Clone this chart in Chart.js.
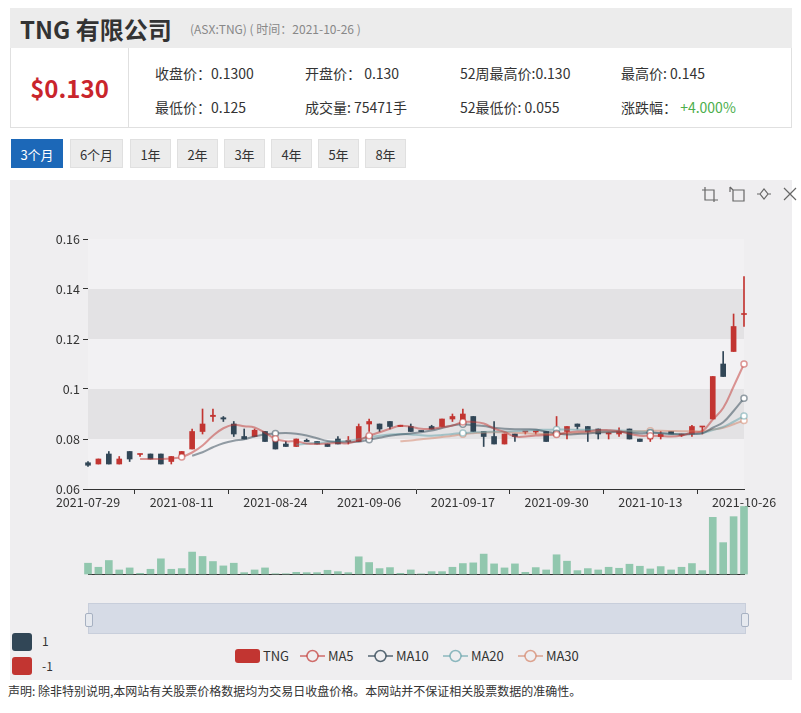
<!DOCTYPE html>
<html>
<head>
<meta charset="utf-8">
<title>TNG 有限公司</title>
<script src="https://cdn.jsdelivr.net/npm/chart.js@4.4.1/dist/chart.umd.min.js"></script>
<style>
  body { margin: 0; width: 801px; height: 713px; background: #fff; position: relative; overflow: hidden;
         font-family: "Noto Sans CJK SC", "Noto Sans", sans-serif; color: #333; }
  .abs { position: absolute; }
  #head { left: 10px; top: 8px; width: 782px; height: 40px; background: #ececec; }
  #head .name { position: absolute; left: 10px; top: 3px; font-size: 24px; font-weight: bold; color: #333; }
  #head .sub { position: absolute; left: 180px; top: 12px; font-size: 12px; color: #888; }
  #info { left: 10px; top: 48px; width: 780px; height: 79px; border: 1px solid #e0e0e0; border-top: none; background: #fff; }
  #price { position: absolute; left: 0; top: 0; width: 117px; height: 79px; border-right: 1px solid #e0e0e0;
           text-align: center; line-height: 79px; font-size: 24px; font-weight: bold; color: #c9252c; }
  .cell { position: absolute; font-size: 14px; color: #333; white-space: nowrap; }
  .green { color: #4cae4c; }
  .btn { position: absolute; top: 139px; height: 29px; line-height: 29px; text-align: center; font-size: 13px;
         background: #ececec; color: #333; border: 1px solid #e0e0e0; box-sizing: border-box; }
  .btn.on { background: #1c68b8; color: #fff; border-color: #1c68b8; }
  #panel { left: 10px; top: 180px; width: 782px; height: 500px; background: #efeef0; }
  #slider { left: 88px; top: 603px; width: 658px; height: 31px; background: #d6dbe6; border: 1px solid #c8cedb; box-sizing: border-box; }
  .handle { position: absolute; top: 9px; width: 6px; height: 12px; background: #e6e9ef; border: 1px solid #a7b1c2; border-radius: 2px; }
  .legend { position: absolute; top: 647px; font-size: 13px; color: #333; height: 18px; line-height: 18px; white-space: nowrap; }
  .vm { position: absolute; left: 12px; width: 20px; height: 18px; border-radius: 3px; }
  .vmt { position: absolute; left: 42px; font-size: 12px; color: #333; }
  #foot { left: 8px; top: 682px; font-size: 12px; color: #333; }
  canvas { position: absolute; }
</style>
</head>
<body>

<div id="head" class="abs">
  <span class="name">TNG 有限公司</span>
  <span class="sub">(ASX:TNG) ( 时间：2021-10-26 )</span>
</div>

<div id="info" class="abs">
  <div id="price">$0.130</div>
  <span class="cell" style="left:144px;top:15px">收盘价：0.1300</span>
  <span class="cell" style="left:294px;top:15px">开盘价： 0.130</span>
  <span class="cell" style="left:449px;top:15px">52周最高价:0.130</span>
  <span class="cell" style="left:610px;top:15px">最高价: 0.145</span>
  <span class="cell" style="left:144px;top:49px">最低价：0.125</span>
  <span class="cell" style="left:294px;top:49px">成交量: 75471手</span>
  <span class="cell" style="left:449px;top:49px">52最低价: 0.055</span>
  <span class="cell" style="left:610px;top:49px">涨跌幅： <span class="green">+4.000%</span></span>
</div>

<div class="btn on" style="left:11px;width:52px">3个月</div>
<div class="btn" style="left:70px;width:53px">6个月</div>
<div class="btn" style="left:130px;width:41px">1年</div>
<div class="btn" style="left:177px;width:41px">2年</div>
<div class="btn" style="left:224px;width:41px">3年</div>
<div class="btn" style="left:271px;width:41px">4年</div>
<div class="btn" style="left:318px;width:41px">5年</div>
<div class="btn" style="left:365px;width:41px">8年</div>

<div id="panel" class="abs"></div>

<svg class="abs" style="left:700px;top:184px" width="101" height="20" fill="none" stroke="#666" stroke-width="1.2">
  <path d="M5 3 V16 H18 M2 6 H14 V18"/>
  <path d="M33 6 H44 V17 H33 Z M33 6 L30 3 M30 3 V8"/>
  <path d="M60 10 L64 5 L68 10 L64 15 Z M57 10 H60 M68 10 H71"/>
  <path d="M84 4 L96 16 M96 4 L84 16"/>
</svg>

<canvas id="kline" width="780" height="340" style="left:10px;top:180px"></canvas>
<canvas id="vol" width="780" height="80" style="left:10px;top:500px"></canvas>

<div id="slider" class="abs">
  <div class="handle" style="left:-4px"></div>
  <div class="handle" style="right:-4px"></div>
</div>

<div class="vm" style="top:633px;background:#314656"></div>
<span class="vmt" style="top:632px">1</span>
<div class="vm" style="top:657px;background:#c23531"></div>
<span class="vmt" style="top:657px">-1</span>

<div id="legend"></div>

<div id="foot" class="abs">声明: 除非特别说明,本网站有关股票价格数据均为交易日收盘价格。本网站并不保证相关股票数据的准确性。</div>

<script>
// trading days shown (3个月)
const dates = [
  '2021-07-29','2021-07-30','2021-08-02','2021-08-03','2021-08-04','2021-08-05','2021-08-06','2021-08-09',
  '2021-08-10','2021-08-11','2021-08-12','2021-08-13','2021-08-16','2021-08-17','2021-08-18','2021-08-19',
  '2021-08-20','2021-08-23','2021-08-24','2021-08-25','2021-08-26','2021-08-27','2021-08-30','2021-08-31',
  '2021-09-01','2021-09-02','2021-09-03','2021-09-06','2021-09-07','2021-09-08','2021-09-09','2021-09-10',
  '2021-09-13','2021-09-14','2021-09-15','2021-09-16','2021-09-17','2021-09-20','2021-09-21','2021-09-22',
  '2021-09-23','2021-09-24','2021-09-27','2021-09-28','2021-09-29','2021-09-30','2021-10-01','2021-10-04',
  '2021-10-05','2021-10-06','2021-10-07','2021-10-08','2021-10-11','2021-10-12','2021-10-13','2021-10-14',
  '2021-10-15','2021-10-18','2021-10-19','2021-10-20','2021-10-21','2021-10-22','2021-10-25','2021-10-26'
];

const openPrices = [
  0.0705, 0.070, 0.074, 0.070, 0.075, 0.0738, 0.074, 0.074, 0.071, 0.073, 0.076, 0.083, 0.089, 0.0885, 0.086, 0.081,
  0.081, 0.083, 0.080, 0.078, 0.077, 0.0795, 0.079, 0.078, 0.080, 0.079, 0.079, 0.086, 0.086, 0.087, 0.085, 0.085,
  0.0832, 0.085, 0.085, 0.088, 0.087, 0.089, 0.083, 0.081, 0.078, 0.082, 0.0828, 0.0828, 0.083, 0.082, 0.083, 0.086,
  0.085, 0.084, 0.082, 0.082, 0.084, 0.080, 0.080, 0.081, 0.083, 0.0815, 0.082, 0.0848, 0.088, 0.110, 0.115, 0.1298
];
const closePrices = [
  0.0695, 0.072, 0.070, 0.072, 0.072, 0.074, 0.072, 0.070, 0.073, 0.075, 0.083, 0.086, 0.0895, 0.088, 0.082, 0.080,
  0.0835, 0.079, 0.076, 0.077, 0.080, 0.079, 0.078, 0.077, 0.078, 0.0795, 0.085, 0.087, 0.084, 0.085, 0.0855, 0.083,
  0.083, 0.084, 0.088, 0.089, 0.090, 0.083, 0.081, 0.078, 0.082, 0.081, 0.083, 0.083, 0.079, 0.083, 0.085, 0.085,
  0.083, 0.082, 0.0825, 0.083, 0.080, 0.079, 0.082, 0.082, 0.082, 0.082, 0.085, 0.085, 0.105, 0.105, 0.125, 0.130
];
const lowPrices = [
  0.069, 0.070, 0.070, 0.070, 0.071, 0.073, 0.072, 0.070, 0.070, 0.073, 0.076, 0.082, 0.087, 0.087, 0.081, 0.080,
  0.081, 0.079, 0.076, 0.077, 0.077, 0.079, 0.078, 0.077, 0.078, 0.078, 0.079, 0.083, 0.083, 0.084, 0.085, 0.083,
  0.083, 0.084, 0.085, 0.087, 0.087, 0.083, 0.077, 0.078, 0.078, 0.079, 0.082, 0.082, 0.079, 0.082, 0.080, 0.084,
  0.079, 0.080, 0.080, 0.081, 0.080, 0.079, 0.079, 0.080, 0.082, 0.081, 0.081, 0.082, 0.088, 0.105, 0.115, 0.125
];
const highPrices = [
  0.071, 0.072, 0.075, 0.073, 0.075, 0.074, 0.074, 0.074, 0.073, 0.075, 0.084, 0.092, 0.092, 0.089, 0.087, 0.084,
  0.084, 0.083, 0.081, 0.079, 0.080, 0.080, 0.079, 0.078, 0.081, 0.081, 0.086, 0.088, 0.086, 0.087, 0.0855, 0.086,
  0.0832, 0.0855, 0.088, 0.090, 0.092, 0.089, 0.083, 0.087, 0.082, 0.082, 0.083, 0.083, 0.083, 0.089, 0.085, 0.086,
  0.085, 0.084, 0.0825, 0.0845, 0.084, 0.080, 0.082, 0.083, 0.083, 0.082, 0.0855, 0.085, 0.105, 0.115, 0.130, 0.145
];
const volumes = [
  12060, 7540, 15080, 4520, 6790, 750, 5280, 16970, 5280, 6030, 24500, 19600, 13950, 9050, 12060, 1510,
  4520, 6790, 300, 300, 1890, 1510, 1510, 4150, 2640, 1510, 19230, 12820, 6030, 7160, 750, 4520,
  200, 2640, 2640, 7540, 11690, 12440, 22240, 11310, 6790, 11310, 1890, 7160, 4520, 21490, 14330, 3770,
  6030, 4520, 7540, 6410, 10930, 8670, 5660, 8290, 4520, 7540, 11690, 3770, 63340, 35060, 64090, 75471
];

// moving averages as drawn on the chart
const ma5 = [
  null, null, null, null, null, 0.0720, 0.0720, 0.0720, 0.0722, 0.0728, 0.0746, 0.0774, 0.0813, 0.0843, 0.0857, 0.0851,
  0.0846, 0.0825, 0.0801, 0.0791, 0.0791, 0.0782, 0.0780, 0.0782, 0.0784, 0.0783, 0.0795, 0.0813, 0.0827, 0.0841, 0.0853, 0.0849,
  0.0841, 0.0841, 0.0847, 0.0854, 0.0868, 0.0868, 0.0862, 0.0842, 0.0828, 0.0810, 0.0810, 0.0814, 0.0816, 0.0818, 0.0826, 0.0830,
  0.0830, 0.0836, 0.0835, 0.0831, 0.0821, 0.0813, 0.0813, 0.0812, 0.0810, 0.0814, 0.0826, 0.0832, 0.0878, 0.0924, 0.1010, 0.1100
];
const ma10 = [
  null, null, null, null, null, null, null, null, null, null, 0.0733, 0.0747, 0.0767, 0.0783, 0.0793, 0.0799,
  0.0810, 0.0819, 0.0822, 0.0824, 0.0821, 0.0814, 0.0803, 0.0792, 0.0788, 0.0787, 0.0789, 0.0797, 0.0805, 0.0813, 0.0818, 0.0822,
  0.0827, 0.0834, 0.0844, 0.0854, 0.0859, 0.0855, 0.0852, 0.0845, 0.0841, 0.0839, 0.0839, 0.0838, 0.0829, 0.0823, 0.0818, 0.0820,
  0.0822, 0.0826, 0.0827, 0.0829, 0.0826, 0.0822, 0.0825, 0.0824, 0.0821, 0.0818, 0.0820, 0.0823, 0.0845, 0.0867, 0.0912, 0.0963
];
const ma20 = [
  null, null, null, null, null, null, null, null, null, null, null, null, null, null, null, null,
  null, null, null, null, 0.0777, 0.0781, 0.0785, 0.0787, 0.0790, 0.0793, 0.0799, 0.0808, 0.0813, 0.0818, 0.0820, 0.0818,
  0.0815, 0.0813, 0.0816, 0.0820, 0.0824, 0.0826, 0.0828, 0.0829, 0.0830, 0.0831, 0.0833, 0.0836, 0.0837, 0.0838, 0.0838, 0.0837,
  0.0837, 0.0835, 0.0834, 0.0834, 0.0832, 0.0830, 0.0827, 0.0823, 0.0819, 0.0819, 0.0821, 0.0824, 0.0836, 0.0848, 0.0869, 0.0892
];
const ma30 = [
  null, null, null, null, null, null, null, null, null, null, null, null, null, null, null, null,
  null, null, null, null, null, null, null, null, null, null, null, null, null, null, 0.0791, 0.0794,
  0.0799, 0.0803, 0.0808, 0.0813, 0.0819, 0.0823, 0.0826, 0.0827, 0.0827, 0.0825, 0.0823, 0.0821, 0.0820, 0.0821, 0.0822, 0.0824,
  0.0826, 0.0828, 0.0829, 0.0830, 0.0831, 0.0831, 0.0833, 0.0833, 0.0832, 0.0831, 0.0831, 0.0831, 0.0838, 0.0845, 0.0859, 0.0874
];

const upColor = '#c23531';
const downColor = '#314656';
const maColors = {
  MA5: 'rgba(194,53,49,0.5)',
  MA10: 'rgba(47,69,84,0.5)',
  MA20: 'rgba(97,160,168,0.5)',
  MA30: 'rgba(212,130,101,0.5)'
};
const candleColor = ctx => closePrices[ctx.dataIndex] >= openPrices[ctx.dataIndex] ? upColor : downColor;

Chart.defaults.font.family = '"Noto Sans CJK SC", "Noto Sans", sans-serif';

// alternating split areas behind the candles
const splitBands = {
  id: 'splitBands',
  beforeDatasetsDraw(chart) {
    const { ctx, chartArea: a, scales: { y } } = chart;
    const t = y.ticks.map(k => k.value);
    ctx.save();
    for (let i = 0; i < t.length - 1; i++) {
      const y0 = y.getPixelForValue(t[i]);
      const y1 = y.getPixelForValue(t[i + 1]);
      ctx.fillStyle = i % 2 ? '#e3e2e4' : '#f2f1f3';
      ctx.fillRect(a.left, y1, a.right - a.left, y0 - y1);
    }
    ctx.restore();
  }
};

function maLine(name, data) {
  return {
    type: 'line',
    label: name,
    data: data,
    borderColor: maColors[name],
    borderWidth: 2,
    tension: 0.4,
    pointRadius: ctx => ctx.dataIndex % 9 === 0 ? 3 : 0,
    pointBackgroundColor: '#fff',
    pointBorderColor: maColors[name],
    pointBorderWidth: 1.5,
    order: 1,
    clip: false
  };
}

new Chart(document.getElementById('kline'), {
  type: 'bar',
  data: {
    labels: dates,
    datasets: [
      maLine('MA5', ma5),
      maLine('MA10', ma10),
      maLine('MA20', ma20),
      maLine('MA30', ma30),
      {
        label: 'wick',
        data: lowPrices.map((l, i) => [l, highPrices[i]]),
        backgroundColor: candleColor,
        barThickness: 1,
        grouped: false,
        order: 3,
        clip: false
      },
      {
        label: 'TNG',
        data: openPrices.map((o, i) => [o, closePrices[i]]),
        backgroundColor: candleColor,
        barThickness: 5,
        minBarLength: 1,
        grouped: false,
        order: 2,
        clip: false
      }
    ]
  },
  options: {
    responsive: false,
    animation: false,
    layout: { padding: { top: 59, right: 46, left: 0, bottom: 0 } },
    plugins: { legend: { display: false }, tooltip: { enabled: false } },
    scales: {
      x: {
        offset: false,
        grid: { display: true, drawOnChartArea: false, tickLength: 5, color: '#333' },
        border: { color: '#333' },
        ticks: {
          autoSkip: false, maxRotation: 0, color: '#333', font: { size: 12.5 }, padding: 1,
          callback(v, i) { return i % 9 === 0 ? this.getLabelForValue(v) : null; }
        },
        afterFit(s) { s.height = 31; }
      },
      y: {
        min: 0.06,
        max: 0.16,
        ticks: { stepSize: 0.02, color: '#333', font: { size: 12.5 }, padding: 3,
                 callback: v => String(Number(v.toFixed(2))) },
        grid: { color: '#cfcfcf', tickColor: '#333', tickLength: 5 },
        border: { color: '#333' },
        afterFit(s) { s.width = 78; }
      }
    }
  },
  plugins: [splitBands]
});

new Chart(document.getElementById('vol'), {
  type: 'bar',
  data: {
    labels: dates,
    datasets: [{ label: '成交量', data: volumes, backgroundColor: '#91c7ae', barThickness: 7, clip: false }]
  },
  options: {
    responsive: false,
    animation: false,
    layout: { padding: { top: 6, right: 46, left: 78, bottom: 6 } },
    plugins: { legend: { display: false }, tooltip: { enabled: false } },
    scales: {
      x: { offset: false, ticks: { display: false }, grid: { display: false }, border: { color: '#333' },
           afterFit(s) { s.height = 0; } },
      y: { display: false, min: 0, max: 76000 }
    }
  }
});

// legend row under the slider
const legendItems = [
  { name: 'TNG', left: 235, box: upColor },
  { name: 'MA5', left: 300, line: 'rgba(194,53,49,0.7)' },
  { name: 'MA10', left: 368, line: 'rgba(47,69,84,0.8)' },
  { name: 'MA20', left: 443, line: 'rgba(97,160,168,0.7)' },
  { name: 'MA30', left: 518, line: 'rgba(212,130,101,0.7)' }
];
const lg = document.getElementById('legend');
legendItems.forEach(it => {
  const d = document.createElement('div');
  d.className = 'legend';
  d.style.left = it.left + 'px';
  let icon;
  if (it.box) {
    icon = '<svg width="25" height="14" style="vertical-align:-2px"><rect x="0" y="0" width="25" height="14" rx="3" fill="' + it.box + '"/></svg>';
  } else {
    icon = '<svg width="25" height="14" style="vertical-align:-2px"><line x1="0" y1="7" x2="25" y2="7" stroke="' + it.line +
           '" stroke-width="1.5"/><circle cx="12.5" cy="7" r="5.5" fill="#efeef0" stroke="' + it.line + '" stroke-width="1.5"/></svg>';
  }
  d.innerHTML = icon + ' ' + it.name;
  lg.appendChild(d);
});
</script>
</body>
</html>
